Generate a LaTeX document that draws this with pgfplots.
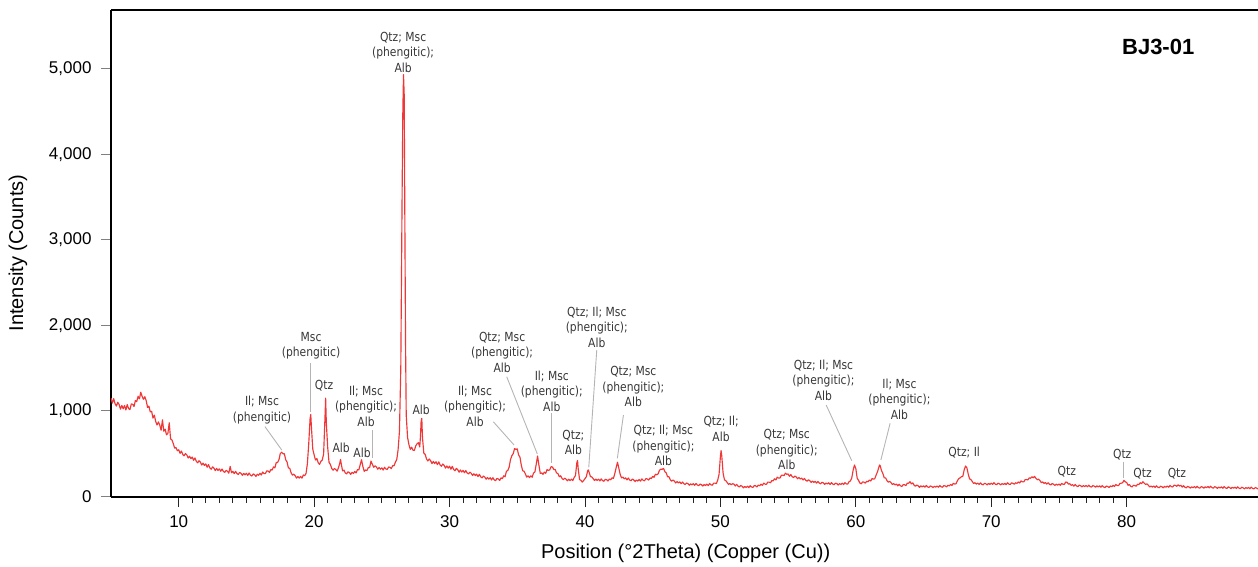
\documentclass[border=0pt]{standalone}
\usepackage{fontspec}
\setmainfont{Liberation Sans}
\newfontfamily\annfont{DejaVu Sans}[FakeStretch=0.86]
\usepackage{pgfplots}
\pgfplotsset{compat=1.18}
\definecolor{xrd}{RGB}{240,55,55}
\definecolor{annc}{RGB}{55,55,55}
\definecolor{leadc}{RGB}{180,180,180}
\tikzset{ann/.style={font=\annfont\fontsize{12.5}{15.5}\selectfont, text=annc, align=center, inner sep=0pt},
  lead/.style={draw=leadc, line width=0.9pt}}
\begin{document}
\begin{tikzpicture}
\useasboundingbox (-111pt,-70pt) rectangle (1147pt,497pt);
\begin{axis}[
  scale only axis, width=1147pt, height=487pt,
  xmin=5, xmax=89.7, ymin=-7, ymax=5685,
  axis x line*=bottom, axis y line*=left,
  axis line style={line width=1.8pt, -},
  xtick={10,20,...,80}, minor x tick num=9,
  ytick={0,1000,...,5000},
  tick align=outside,
  major tick length=10pt, minor tick length=6pt,
  tick style={line width=0.9pt, black!85},
  y tick style={gray},
  tick label style={font=\fontsize{17}{20}\selectfont},
  xticklabel style={yshift=-5pt},
  yticklabel style={xshift=-6pt},
  /pgf/number format/assume math mode=true,
  /pgf/number format/1000 sep={,},
  scaled y ticks=false,
  xlabel={Position (°2Theta) (Copper (Cu))},
  ylabel={Intensity (Counts)},
  label style={font=\fontsize{20}{24}\selectfont},
  xlabel style={at={(axis description cs:0.501,-0.115)}, anchor=center},
  ylabel style={at={(axis description cs:-0.0811,0.501)}, anchor=center},
]
\addplot[xrd, line width=1.15pt, line join=round] coordinates {
(5.0,1150)(5.1,1090)(5.2,1143)(5.3,1083)(5.4,1055)(5.5,1100)(5.6,1073)(5.7,1020)(5.8,1063)(5.9,1024)
(6.0,1063)(6.1,1010)(6.2,1073)(6.3,1026)(6.4,1015)(6.5,1080)(6.6,1078)(6.7,1050)(6.8,1120)(6.9,1107)
(7.0,1170)(7.1,1140)(7.2,1218)(7.3,1168)(7.4,1135)(7.5,1165)(7.6,1118)(7.7,1040)(7.8,1055)(7.9,987)
(8.0,995)(8.1,915)(8.2,950)(8.3,876)(8.4,835)(8.5,870)(8.6,833)(8.7,773)(8.8,895)(8.9,762)
(9.0,785)(9.1,720)(9.2,735)(9.3,860)(9.4,672)(9.5,660)(9.6,617)(9.7,564)(9.8,571)(9.9,534)
(10.0,545)(10.1,503)(10.2,530)(10.3,490)(10.4,474)(10.5,501)(10.6,484)(10.7,449)(10.8,470)(10.9,441)
(11.0,460)(11.1,421)(11.2,450)(11.3,410)(11.4,392)(11.5,417)(11.6,400)(11.7,367)(11.8,389)(11.9,361)
(12.0,380)(12.1,341)(12.2,371)(12.3,333)(12.4,317)(12.5,345)(12.6,331)(12.7,301)(12.8,327)(12.9,303)
(13.0,322)(13.1,294)(13.2,320)(13.3,292)(13.4,281)(13.5,304)(13.6,294)(13.7,271)(13.8,350)(13.9,276)
(14.0,293)(14.1,266)(14.2,293)(14.3,267)(14.4,256)(14.5,280)(14.6,270)(14.7,247)(14.8,269)(14.9,252)
(15.0,270)(15.1,245)(15.2,273)(15.3,248)(15.4,238)(15.5,263)(15.6,254)(15.7,234)(15.8,259)(15.9,247)
(16.0,270)(16.1,250)(16.2,285)(16.3,267)(16.4,266)(16.5,298)(16.6,296)(16.7,281)(16.8,313)(16.9,308)
(17.0,345)(17.1,333)(17.2,395)(17.3,397)(17.4,427)(17.5,500)(17.6,517)(17.7,499)(17.8,499)(17.9,429)
(18.0,402)(18.1,333)(18.2,328)(18.3,276)(18.4,248)(18.5,260)(18.6,242)(18.7,213)(18.8,232)(18.9,214)
(19.0,234)(19.1,213)(19.2,250)(19.3,242)(19.4,266)(19.5,380)(19.6,610)(19.7,905)(19.75,958)(19.8,810)(19.9,552)
(20.0,485)(20.1,425)(20.2,443)(20.3,394)(20.4,374)(20.5,410)(20.6,425)(20.7,495)(20.8,915)(20.85,1148)(20.9,860)
(21.0,575)(21.1,398)(21.2,373)(21.3,326)(21.4,306)(21.5,326)(21.6,314)(21.7,295)(21.8,337)(21.9,392)(21.95,432)
(22.0,382)(22.1,298)(22.2,308)(22.3,274)(22.4,263)(22.5,288)(22.6,279)(22.7,257)(22.8,281)(22.9,268)
(23.0,292)(23.1,274)(23.2,313)(23.3,309)(23.4,370)(23.5,428)(23.6,349)(23.7,293)(23.8,309)(23.9,302)
(24.0,337)(24.1,338)(24.2,413)(24.3,374)(24.4,341)(24.5,357)(24.6,344)(24.7,318)(24.8,337)(24.9,318)
(25.0,334)(25.1,308)(25.2,340)(25.3,320)(25.4,316)(25.5,344)(25.6,340)(25.7,326)(25.8,359)(25.9,358)
(26.0,400)(26.1,430)(26.2,545)(26.3,760)(26.4,1500)(26.5,3600)(26.55,4500)(26.6,4930)(26.65,4700)(26.7,3200)(26.75,1800)(26.8,950)(26.9,690)
(27.0,605)(27.1,550)(27.2,575)(27.3,540)(27.4,537)(27.5,590)(27.6,615)(27.7,628)(27.8,578)(27.85,700)(27.9,875)(27.95,912)
(28.0,690)(28.1,505)(28.2,491)(28.3,437)(28.4,414)(28.5,437)(28.6,418)(28.7,384)(28.8,409)(28.9,384)
(29.0,405)(29.1,371)(29.2,404)(29.3,368)(29.4,352)(29.5,379)(29.6,363)(29.7,331)(29.8,356)(29.9,331)
(30.0,353)(30.1,318)(30.2,351)(30.3,315)(30.4,300)(30.5,328)(30.6,313)(30.7,283)(30.8,309)(30.9,285)
(31.0,304)(31.1,276)(31.2,302)(31.3,274)(31.4,262)(31.5,283)(31.6,270)(31.7,245)(31.8,264)(31.9,244)
(32.0,260)(32.1,232)(32.2,258)(32.3,229)(32.4,216)(32.5,238)(32.6,226)(32.7,201)(32.8,221)(32.9,202)
(33.0,219)(33.1,192)(33.2,219)(33.3,193)(33.4,184)(33.5,210)(33.6,204)(33.7,187)(33.8,217)(33.9,208)
(34.0,241)(34.1,230)(34.2,295)(34.3,302)(34.4,342)(34.5,430)(34.6,475)(34.7,499)(34.8,559)(34.9,549)
(35.0,555)(35.1,485)(35.2,458)(35.3,362)(35.4,300)(35.5,294)(35.6,262)(35.7,225)(35.8,240)(35.9,220)
(36.0,240)(36.1,224)(36.2,273)(36.3,284)(36.4,376)(36.5,472)(36.6,364)(36.7,268)(36.8,275)(36.9,258)
(37.0,284)(37.1,270)(37.2,313)(37.3,304)(37.4,311)(37.5,348)(37.6,344)(37.7,313)(37.8,315)(37.9,274)
(38.0,268)(38.1,230)(38.2,241)(38.3,211)(38.4,196)(38.5,213)(38.6,202)(38.7,182)(38.8,200)(38.9,185)
(39.0,202)(39.1,185)(39.2,220)(39.3,245)(39.4,395)(39.45,420)(39.5,323)(39.6,196)(39.7,188)(39.8,167)(39.9,186)
(40.0,208)(40.1,230)(40.2,300)(40.25,310)(40.3,285)(40.4,233)(40.5,228)(40.6,209)(40.7,186)(40.8,202)(40.9,187)
(41.0,202)(41.1,181)(41.2,205)(41.3,184)(41.4,177)(41.5,200)(41.6,195)(41.7,180)(41.8,203)(41.9,194)
(42.0,218)(42.1,210)(42.2,265)(42.3,335)(42.4,400)(42.5,330)(42.6,258)(42.7,216)(42.8,226)(42.9,205)
(43.0,217)(43.1,193)(43.2,215)(43.3,192)(43.4,183)(43.5,203)(43.6,193)(43.7,174)(43.8,192)(43.9,179)
(44.0,197)(44.1,178)(44.2,205)(44.3,187)(44.4,183)(44.5,208)(44.6,204)(44.7,191)(44.8,216)(44.9,209)
(45.0,234)(45.1,223)(45.2,259)(45.3,253)(45.4,263)(45.5,305)(45.6,318)(45.7,316)(45.8,328)(45.9,288)
(46.0,275)(46.1,228)(46.2,230)(46.3,195)(46.4,178)(46.5,192)(46.6,179)(46.7,157)(46.8,173)(46.9,157)
(47.0,170)(47.1,149)(47.2,168)(47.3,148)(47.4,139)(47.5,157)(47.6,149)(47.7,131)(47.8,147)(47.9,135)
(48.0,149)(48.1,130)(48.2,151)(48.3,133)(48.4,125)(48.5,144)(48.6,137)(48.7,121)(48.8,138)(48.9,127)
(49.0,143)(49.1,126)(49.2,150)(49.3,135)(49.4,131)(49.5,155)(49.6,155)(49.7,149)(49.8,190)(49.9,255)
(50.0,465)(50.05,535)(50.1,475)(50.2,271)(50.3,194)(50.4,184)(50.5,163)(50.6,139)(50.7,151)(50.8,136)(50.9,148)
(51.0,144)(51.1,122)(51.2,141)(51.3,120)(51.4,110)(51.5,127)(51.6,119)(51.7,100)(51.8,116)(51.9,104)
(52.0,119)(52.1,102)(52.2,125)(52.3,110)(52.4,105)(52.5,127)(52.6,124)(52.7,111)(52.8,132)(52.9,124)
(53.0,143)(53.1,129)(53.2,155)(53.3,143)(53.4,141)(53.5,167)(53.6,167)(53.7,159)(53.8,185)(53.9,182)
(54.0,206)(54.1,193)(54.2,225)(54.3,213)(54.4,215)(54.5,246)(54.6,249)(54.7,242)(54.8,272)(54.9,258)
(55.0,262)(55.1,235)(55.2,255)(55.3,231)(55.4,220)(55.5,238)(55.6,227)(55.7,206)(55.8,221)(55.9,203)
(56.0,214)(56.1,192)(56.2,210)(56.3,189)(56.4,178)(56.5,194)(56.6,184)(56.7,164)(56.8,179)(56.9,164)
(57.0,176)(57.1,155)(57.2,175)(57.3,156)(57.4,147)(57.5,165)(57.6,158)(57.7,140)(57.8,157)(57.9,145)
(58.0,159)(58.1,140)(58.2,161)(58.3,144)(58.4,136)(58.5,156)(58.6,149)(58.7,133)(58.8,150)(58.9,139)
(59.0,155)(59.1,138)(59.2,161)(59.3,146)(59.4,144)(59.5,172)(59.6,181)(59.7,215)(59.8,305)(59.9,367)
(60.0,325)(60.1,213)(60.2,188)(60.3,156)(60.4,147)(60.5,169)(60.6,167)(60.7,155)(60.8,177)(60.9,171)
(61.0,192)(61.1,180)(61.2,209)(61.3,201)(61.4,207)(61.5,250)(61.6,288)(61.7,340)(61.75,367)(61.8,358)(61.9,300)
(62.0,267)(62.1,216)(62.2,216)(62.3,184)(62.4,166)(62.5,175)(62.6,161)(62.7,139)(62.8,150)(62.9,134)
(63.0,145)(63.1,123)(63.2,142)(63.3,123)(63.4,116)(63.5,138)(63.6,136)(63.7,127)(63.8,155)(63.9,154)
(64.0,172)(64.1,146)(64.2,158)(64.3,132)(64.4,118)(64.5,133)(64.6,124)(64.7,106)(64.8,123)(64.9,111)
(65.0,124)(65.1,108)(65.2,127)(65.3,111)(65.4,105)(65.5,122)(65.6,116)(65.7,103)(65.8,119)(65.9,108)
(66.0,122)(66.1,107)(66.2,127)(66.3,112)(66.4,107)(66.5,126)(66.6,122)(66.7,111)(66.8,130)(66.9,122)
(67.0,140)(67.1,128)(67.2,153)(67.3,144)(67.4,148)(67.5,183)(67.6,207)(67.7,217)(67.8,230)(67.9,234)
(68.0,308)(68.1,355)(68.2,335)(68.3,261)(68.4,205)(68.5,196)(68.6,174)(68.7,151)(68.8,160)(68.9,144)
(69.0,156)(69.1,139)(69.2,158)(69.3,142)(69.4,135)(69.5,153)(69.6,147)(69.7,135)(69.8,151)(69.9,141)
(70.0,155)(70.1,140)(70.2,160)(70.3,143)(70.4,137)(70.5,154)(70.6,148)(70.7,134)(70.8,150)(70.9,139)
(71.0,153)(71.1,138)(71.2,159)(71.3,144)(71.4,139)(71.5,158)(71.6,153)(71.7,142)(71.8,160)(71.9,152)
(72.0,169)(72.1,157)(72.2,181)(72.3,170)(72.4,170)(72.5,195)(72.6,197)(72.7,192)(72.8,216)(72.9,212)
(73.0,230)(73.1,217)(73.2,234)(73.3,211)(73.4,195)(73.5,201)(73.6,184)(73.7,161)(73.8,169)(73.9,152)
(74.0,162)(74.1,143)(74.2,160)(74.3,142)(74.4,134)(74.5,150)(74.6,142)(74.7,128)(74.8,143)(74.9,131)
(75.0,145)(75.1,130)(75.2,152)(75.3,141)(75.4,142)(75.5,168)(75.6,165)(75.7,144)(75.8,148)(75.9,129)
(76.0,138)(76.1,120)(76.2,139)(76.3,122)(76.4,115)(76.5,132)(76.6,125)(76.7,111)(76.8,126)(76.9,115)
(77.0,128)(77.1,112)(77.2,131)(77.3,115)(77.4,109)(77.5,126)(77.6,120)(77.7,108)(77.8,123)(77.9,111)
(78.0,124)(78.1,107)(78.2,126)(78.3,110)(78.4,103)(78.5,121)(78.6,116)(78.7,104)(78.8,122)(78.9,113)
(79.0,129)(79.1,116)(79.2,139)(79.3,127)(79.4,126)(79.5,151)(79.6,154)(79.7,160)(79.8,188)(79.9,170)
(80.0,163)(80.1,130)(80.2,139)(80.3,118)(80.4,111)(80.5,130)(80.6,127)(80.7,119)(80.8,142)(80.9,139)
(81.0,160)(81.1,149)(81.2,172)(81.3,154)(81.4,140)(81.5,146)(81.6,130)(81.7,110)(81.8,122)(81.9,109)
(82.0,122)(82.1,105)(82.2,124)(82.3,108)(82.4,101)(82.5,119)(82.6,113)(82.7,100)(82.8,117)(82.9,107)
(83.0,122)(83.1,107)(83.2,128)(83.3,114)(83.4,110)(83.5,131)(83.6,128)(83.7,118)(83.8,135)(83.9,121)
(84.0,130)(84.1,109)(84.2,125)(84.3,107)(84.4,100)(84.5,117)(84.6,110)(84.7,97)(84.8,112)(84.9,101)
(85.0,115)(85.1,99)(85.2,118)(85.3,102)(85.4,96)(85.5,114)(85.6,109)(85.7,96)(85.8,113)(85.9,102)
(86.0,116)(86.1,100)(86.2,119)(86.3,103)(86.4,96)(86.5,114)(86.6,107)(86.7,94)(86.8,110)(86.9,98)
(87.0,112)(87.1,95)(87.2,115)(87.3,99)(87.4,93)(87.5,111)(87.6,104)(87.7,91)(87.8,107)(87.9,96)
(88.0,108)(88.1,92)(88.2,112)(88.3,96)(88.4,90)(88.5,108)(88.6,100)(88.7,88)(88.8,104)(88.9,93)
(89.0,105)(89.1,89)(89.2,109)(89.3,93)(89.4,87)(89.5,104)(89.6,97)(89.7,86)
};
% annotations
\node[ann] at (axis cs:16.15,1010) {Il; Msc\\(phengitic)};
\draw[lead] (axis cs:16.37,815) -- (axis cs:17.61,542);
\node[ann] at (axis cs:19.77,1758) {Msc\\(phengitic)};
\draw[lead] (axis cs:19.75,1559) -- (axis cs:19.75,990);
\node[ann] at (axis cs:20.73,1290) {Qtz};
\node[ann] at (axis cs:23.83,1057) {Il; Msc\\(phengitic);\\Alb};
\draw[lead] (axis cs:24.33,776) -- (axis cs:24.33,445);
\node[ann] at (axis cs:21.99,566) {Alb};
\node[ann] at (axis cs:23.54,507) {Alb};
\node[ann] at (axis cs:26.57,5194) {Qtz; Msc\\(phengitic);\\Alb};
\node[ann] at (axis cs:27.90,1010) {Alb};
\node[ann] at (axis cs:31.88,1057) {Il; Msc\\(phengitic);\\Alb};
\draw[lead] (axis cs:33.23,873) -- (axis cs:34.76,601);
\node[ann] at (axis cs:33.88,1688) {Qtz; Msc\\(phengitic);\\Alb};
\draw[lead] (axis cs:34.22,1399) -- (axis cs:36.48,496);
\node[ann] at (axis cs:37.55,1232) {Il; Msc\\(phengitic);\\Alb};
\draw[lead] (axis cs:37.50,971) -- (axis cs:37.50,387);
\node[ann] at (axis cs:39.14,630) {Qtz;\\Alb};
\node[ann] at (axis cs:40.87,1980) {Qtz; Il; Msc\\(phengitic);\\Alb};
\draw[lead] (axis cs:40.87,1711) -- (axis cs:40.28,340);
\node[ann] at (axis cs:43.57,1285) {Qtz; Msc\\(phengitic);\\Alb};
\draw[lead] (axis cs:42.84,951) -- (axis cs:42.39,445);
\node[ann] at (axis cs:45.79,595) {Qtz; Il; Msc\\(phengitic);\\Alb};
\node[ann] at (axis cs:50.05,788) {Qtz; Il;\\Alb};
\node[ann] at (axis cs:54.90,548) {Qtz; Msc\\(phengitic);\\Alb};
\node[ann] at (axis cs:57.61,1360) {Qtz; Il; Msc\\(phengitic);\\Alb};
\draw[lead] (axis cs:57.81,1068) -- (axis cs:59.70,417);
\node[ann] at (axis cs:63.22,1138) {Il; Msc\\(phengitic);\\Alb};
\draw[lead] (axis cs:62.53,854) -- (axis cs:61.85,425);
\node[ann] at (axis cs:68.00,511) {Qtz; Il};
\node[ann] at (axis cs:75.58,289) {Qtz};
\node[ann] at (axis cs:79.67,484) {Qtz};
\draw[lead] (axis cs:79.74,406) -- (axis cs:79.74,212);
\node[ann] at (axis cs:81.17,262) {Qtz};
\node[ann] at (axis cs:83.71,262) {Qtz};
\node[font=\fontsize{22}{26}\selectfont\bfseries, inner sep=0pt] at (axis cs:82.33,5253) {BJ3-01};
\end{axis}
\draw[line width=1.8pt] (current axis.north west) -- (current axis.north east);
\end{tikzpicture}
\end{document}
